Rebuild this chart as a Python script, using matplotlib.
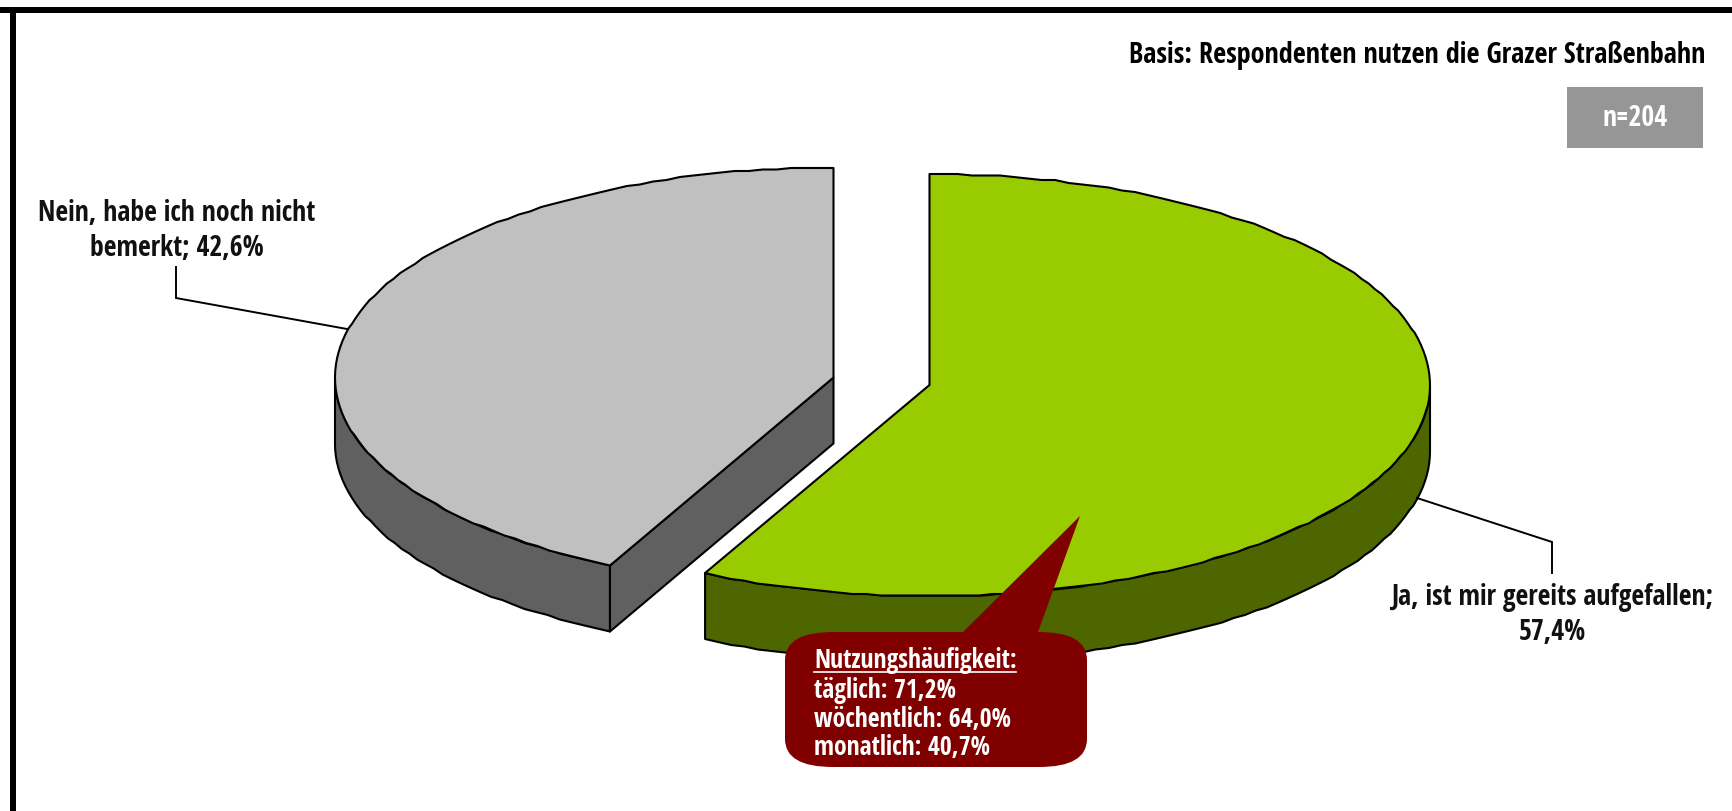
import numpy as np
import matplotlib
matplotlib.use("Agg")
import matplotlib.pyplot as plt
from matplotlib.patches import Polygon, PathPatch, Rectangle
from matplotlib.path import Path

plt.rcParams['font.family'] = ['Open Sans Condensed', 'Fira Sans Condensed', 'Liberation Sans', 'DejaVu Sans']

# Data
categories = ["Ja, ist mir gereits aufgefallen;\n57,4%", "Nein, habe ich noch nicht\nbemerkt; 42,6%"]
shares = [57.4, 42.6]
basis_text = "Basis: Respondenten nutzen die Grazer Straßenbahn"
n_text = "n=204"
usage_title = "Nutzungshäufigkeit:"
usage_rows = ["täglich: 71,2%", "wöchentlich: 64,0%", "monatlich: 40,7%"]

fig = plt.figure(figsize=(17.33, 8.11), dpi=100)
ax = fig.add_axes([0, 0, 1, 1])
ax.set_xlim(0, 1733)
ax.set_ylim(811, 0)
ax.axis("off")

GREEN, GREEN_D = "#99CC00", "#4D6600"
GREY, GREY_D = "#C0C0C0", "#606060"
MAROON = "#800000"
FS_LABEL = 20
FS_BASIS = 20.3
FS_NOTE = 18.5


def arc(cx, cy, rx, ry, a0, a1):
    """Clockwise-from-top angles (deg) to stepped ellipse points."""
    n = max(int(abs(a1 - a0) / 1.6), 2)
    t = np.radians(np.linspace(a0, a1, n))
    x = cx + rx * np.sin(t)
    y = cy - ry * np.cos(t)
    return np.column_stack([x, np.round(y / 1.5) * 1.5])


def poly(pts, fc, z):
    ax.add_patch(Polygon(pts, closed=True, fc=fc, ec="black", lw=1.5, joinstyle="round", zorder=z))


# Frame
ax.add_patch(Rectangle((0, 7), 1733, 6, fc="black", ec="none", zorder=1))
ax.add_patch(Rectangle((10, 7), 6, 804, fc="black", ec="none", zorder=1))

sweep_yes = shares[0] / sum(shares) * 360
sweep_no = shares[1] / sum(shares) * 360

# Grey slice (runs anticlockwise from the top)
gx, gy, grx, gry, gd = 833.5, 377.5, 498.5, 210, 66
end_no = 360 - sweep_no
wall = arc(gx, gy, grx, gry, 270, end_no)
poly(np.vstack([wall, (wall + [0, gd])[::-1]]), GREY_D, 2)
tip = arc(gx, gy, grx, gry, end_no, end_no)[0]
poly([(gx, gy), tip, tip + [0, gd], (gx, gy + gd)], GREY_D, 2)
poly(np.vstack([[(gx, gy)], arc(gx, gy, grx, gry, end_no, 360)]), GREY, 3)

# Green slice (runs clockwise from the top)
cx, cy, rx, ry, d = 929.5, 385, 500.5, 211, 66
wall = arc(cx, cy, rx, ry, 90, sweep_yes)
poly(np.vstack([wall, (wall + [0, d])[::-1]]), GREEN_D, 2)
poly(np.vstack([[(cx, cy)], arc(cx, cy, rx, ry, 0, sweep_yes)]), GREEN, 3)

# Leader lines
ax.plot([176, 176, 347], [267, 298, 329], color="black", lw=1.4, zorder=2, solid_joinstyle="miter")
ax.plot([1417, 1552, 1552], [498, 542, 573], color="black", lw=1.4, zorder=2, solid_joinstyle="miter")

# Slice labels
ax.text(177, 231, categories[1], ha="center", va="center", fontsize=FS_LABEL, fontweight="bold",
        color="#111111", linespacing=1.25, zorder=5)
ax.text(1552, 615, categories[0], ha="center", va="center", fontsize=FS_LABEL, fontweight="bold",
        color="#111111", linespacing=1.25, zorder=5)

# Basis and n
ax.text(1705, 56, basis_text, ha="right", va="center", fontsize=FS_BASIS, fontweight="bold", color="black", zorder=5)
ax.add_patch(Rectangle((1567, 87), 136, 61, fc="#969696", ec="none", zorder=3))
ax.text(1635, 119, n_text, ha="center", va="center", fontsize=FS_LABEL, fontweight="bold", color="white", zorder=5)

# Callout
L, R, T, B = 785, 1087, 632, 767
hx, hy = 48, 28
verts = [(L + hx, T), (963, T), (1080, 516), (1038, T), (R - hx, T),
         (R, T), (R, T + hy), (R, B - hy), (R, B), (R - hx, B),
         (L + hx, B), (L, B), (L, B - hy), (L, T + hy), (L, T), (L + hx, T), (L + hx, T)]
codes = [Path.MOVETO, Path.LINETO, Path.LINETO, Path.LINETO, Path.LINETO,
         Path.CURVE3, Path.CURVE3, Path.LINETO, Path.CURVE3, Path.CURVE3,
         Path.LINETO, Path.CURVE3, Path.CURVE3, Path.LINETO, Path.CURVE3, Path.CURVE3, Path.CLOSEPOLY]
ax.add_patch(PathPatch(Path(verts, codes), fc=MAROON, ec="none", zorder=4))
for y, s in zip([661, 690, 719, 748], [usage_title] + usage_rows):
    ax.text(814, y, s, ha="left", va="center", fontsize=FS_NOTE, fontweight="bold", color="white", zorder=5)
ax.plot([814, 1016], [672, 672], color="white", lw=1.2, zorder=5)

fig.savefig("out.png", dpi=100, facecolor="white")
